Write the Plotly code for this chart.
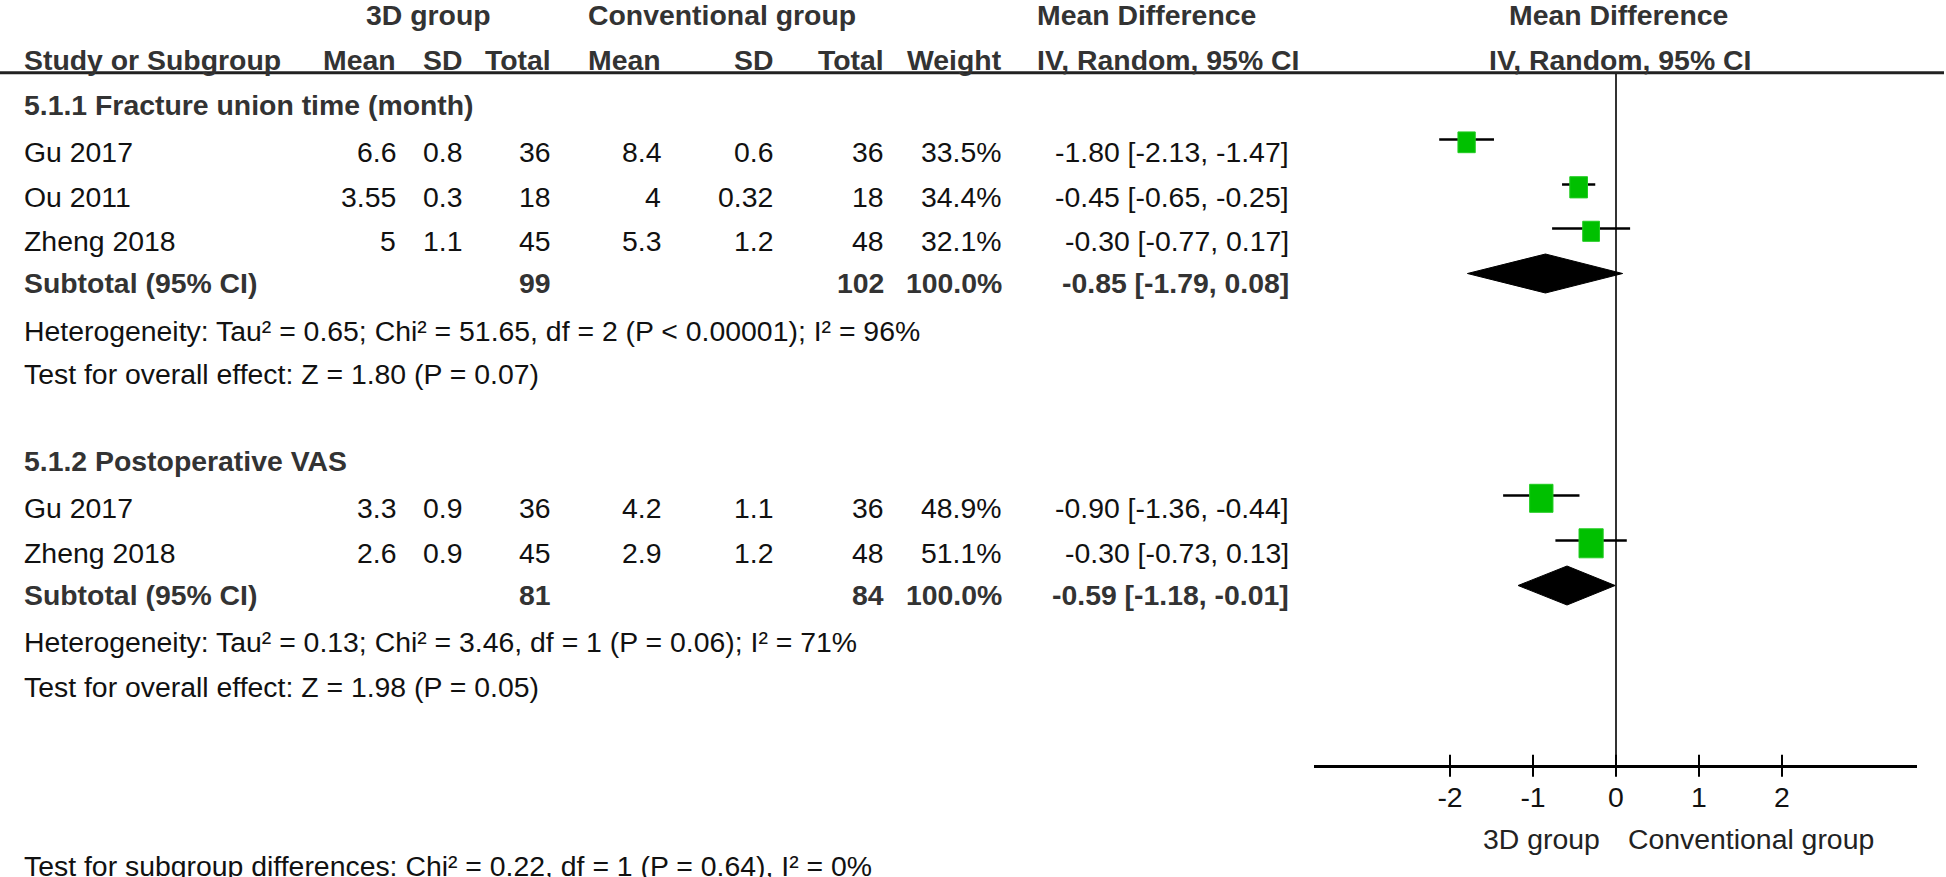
import plotly.graph_objects as go

W, H = 1946, 877

# ---------------- data ----------------
group_titles = ["5.1.1 Fracture union time (month)", "5.1.2 Postoperative VAS"]

g1_study = ["Gu 2017", "Ou 2011", "Zheng 2018"]
g1_mean_3d = [6.6, 3.55, 5]
g1_sd_3d = [0.8, 0.3, 1.1]
g1_n_3d = [36, 18, 45]
g1_mean_conv = [8.4, 4, 5.3]
g1_sd_conv = [0.6, 0.32, 1.2]
g1_n_conv = [36, 18, 48]
g1_weight = [33.5, 34.4, 32.1]
g1_md = [-1.80, -0.45, -0.30]
g1_lo = [-2.13, -0.65, -0.77]
g1_hi = [-1.47, -0.25, 0.17]

g2_study = ["Gu 2017", "Zheng 2018"]
g2_mean_3d = [3.3, 2.6]
g2_sd_3d = [0.9, 0.9]
g2_n_3d = [36, 45]
g2_mean_conv = [4.2, 2.9]
g2_sd_conv = [1.1, 1.2]
g2_n_conv = [36, 48]
g2_weight = [48.9, 51.1]
g2_md = [-0.90, -0.30]
g2_lo = [-1.36, -0.73]
g2_hi = [-0.44, 0.13]

sub_n_3d = [99, 81]
sub_n_conv = [102, 84]
sub_md = [-0.85, -0.59]
sub_lo = [-1.79, -1.18]
sub_hi = [0.08, -0.01]

het_text = ["Heterogeneity: Tau² = 0.65; Chi² = 51.65, df = 2 (P < 0.00001); I² = 96%",
            "Heterogeneity: Tau² = 0.13; Chi² = 3.46, df = 1 (P = 0.06); I² = 71%"]
overall_text = ["Test for overall effect: Z = 1.80 (P = 0.07)",
                "Test for overall effect: Z = 1.98 (P = 0.05)"]
subgroup_text = "Test for subgroup differences: Chi² = 0.22, df = 1 (P = 0.64), I² = 0%"

tick_vals = [-2, -1, 0, 1, 2]
tick_text = ["-2", "-1", "0", "1", "2"]
favours = ["3D group", "Conventional group"]

# ---------------- layout constants ----------------
FONT = "Liberation Sans, Arial, sans-serif"
FS = 28.4
TXT = "#111111"
BOLD = "#333333"
GREEN = "#00C000"
PAD = 3  # annotation inner padding compensation

ZERO_PX, PPU = 1616, 83.0
X_RANGE = [-3.64, 3.63]
AXIS_Y = 765.7
HEADER_LINE_Y = 72.7

COL = dict(study=25, mean3=395, sd3=461, n3=550, meanc=660, sdc=772, nc=883,
           weight=1001, md=1288)

groups = [
    dict(title_y=105, rows_y=[152, 197, 241], sub_y=283, het_y=331, ov_y=374,
         study=g1_study, m3=g1_mean_3d, s3=g1_sd_3d, n3=g1_n_3d, mc=g1_mean_conv,
         sc=g1_sd_conv, nc=g1_n_conv, w=g1_weight, md=g1_md, lo=g1_lo, hi=g1_hi),
    dict(title_y=461, rows_y=[508, 553], sub_y=595, het_y=642, ov_y=687,
         study=g2_study, m3=g2_mean_3d, s3=g2_sd_3d, n3=g2_n_3d, mc=g2_mean_conv,
         sc=g2_sd_conv, nc=g2_n_conv, w=g2_weight, md=g2_md, lo=g2_lo, hi=g2_hi),
]
SUBGROUP_Y = 866
FAVOURS_Y = 839
MARK_OFF = -12.5     # CI line sits above text centre
SQ_OFF = 2.8         # square centre below CI line
DIA_OFF = -9.5
DIA_HALF_H = 19.5

fig = go.Figure()
ann = []


def txt(x_px, y, s, anchor="left", bold=False, color=None):
    if anchor == "left":
        x_px -= PAD
    elif anchor == "right":
        x_px += PAD
    ann.append(dict(x=x_px / W, xref="paper", y=y, yref="y", text=(f"<b>{s}</b>" if bold else s),
                    showarrow=False, xanchor=anchor, yanchor="middle",
                    font=dict(family=FONT, size=FS, color=color or (BOLD if bold else TXT))))


def g(v):
    return f"{v:g}"


# headers
txt(428.5, 15, "3D group", "center", True)
txt(721.5, 15, "Conventional group", "center", True)
txt(1038, 15, "Mean Difference", "left", True)
txt(1618, 15, "Mean Difference", "center", True)
txt(COL["study"], 60, "Study or Subgroup", "left", True)
txt(COL["mean3"], 60, "Mean", "right", True)
txt(COL["sd3"], 60, "SD", "right", True)
txt(COL["n3"], 60, "Total", "right", True)
txt(COL["meanc"], 60, "Mean", "right", True)
txt(COL["sdc"], 60, "SD", "right", True)
txt(COL["nc"], 60, "Total", "right", True)
txt(COL["weight"], 60, "Weight", "right", True)
txt(1038, 60, "IV, Random, 95% CI", "left", True)
txt(1620, 60, "IV, Random, 95% CI", "center", True)

ci_x, ci_y = [], []
sq_x, sq_y = [], []
dia_x, dia_y = [], []

for gi, grp in enumerate(groups):
    txt(COL["study"], grp["title_y"], group_titles[gi], "left", True)
    for i, y in enumerate(grp["rows_y"]):
        txt(COL["study"], y, grp["study"][i])
        txt(COL["mean3"], y, g(grp["m3"][i]), "right")
        txt(COL["sd3"], y, g(grp["s3"][i]), "right")
        txt(COL["n3"], y, g(grp["n3"][i]), "right")
        txt(COL["meanc"], y, g(grp["mc"][i]), "right")
        txt(COL["sdc"], y, g(grp["sc"][i]), "right")
        txt(COL["nc"], y, g(grp["nc"][i]), "right")
        txt(COL["weight"], y, f"{grp['w'][i]:.1f}%", "right")
        txt(COL["md"], y, f"{grp['md'][i]:.2f} [{grp['lo'][i]:.2f}, {grp['hi'][i]:.2f}]", "right")
        # forest marks
        yl = y + MARK_OFF
        ci_x += [grp["lo"][i], grp["hi"][i], None]
        ci_y += [yl, yl, None]
        wpx = 1.08 * grp["w"][i] ** 0.79
        hpx = 1.2 * wpx
        hw = wpx / 2 / PPU
        cx, cy = grp["md"][i], yl + SQ_OFF
        sq_x += [cx - hw, cx + hw, cx + hw, cx - hw, cx - hw, None]
        sq_y += [cy - hpx / 2, cy - hpx / 2, cy + hpx / 2, cy + hpx / 2, cy - hpx / 2, None]
    ys = grp["sub_y"]
    txt(COL["study"], ys, "Subtotal (95% CI)", "left", True)
    txt(COL["n3"], ys, g(sub_n_3d[gi]), "right", True)
    txt(COL["nc"], ys, g(sub_n_conv[gi]), "right", True)
    txt(COL["weight"], ys, "100.0%", "right", True)
    txt(COL["md"], ys, f"{sub_md[gi]:.2f} [{sub_lo[gi]:.2f}, {sub_hi[gi]:.2f}]", "right", True)
    yd = ys + DIA_OFF
    dia_x += [sub_lo[gi], sub_md[gi], sub_hi[gi], sub_md[gi], sub_lo[gi], None]
    dia_y += [yd, yd - DIA_HALF_H, yd, yd + DIA_HALF_H, yd, None]
    txt(COL["study"], grp["het_y"], het_text[gi])
    txt(COL["study"], grp["ov_y"], overall_text[gi])

txt(COL["study"], SUBGROUP_Y, subgroup_text)

# favours labels (positioned relative to zero on the effect axis)
ann.append(dict(x=-0.21 + PAD / PPU, xref="x", y=FAVOURS_Y, yref="y", text=favours[0], showarrow=False,
                xanchor="right", yanchor="middle", font=dict(family=FONT, size=FS, color="#222222")))
ann.append(dict(x=0.16 - PAD / PPU, xref="x", y=FAVOURS_Y, yref="y", text=favours[1], showarrow=False,
                xanchor="left", yanchor="middle", font=dict(family=FONT, size=FS, color="#222222")))

# zero line
fig.add_trace(go.Scatter(x=[0, 0], y=[HEADER_LINE_Y, AXIS_Y], mode="lines",
                         line=dict(color="#333333", width=2), hoverinfo="skip"))
# ticks crossing the axis line
tx, ty = [], []
for t in tick_vals:
    tx += [t, t, None]
    ty += [AXIS_Y - 11, AXIS_Y + 11, None]
fig.add_trace(go.Scatter(x=tx, y=ty, mode="lines", line=dict(color="black", width=2), hoverinfo="skip"))
# CI lines
fig.add_trace(go.Scatter(x=ci_x, y=ci_y, mode="lines", line=dict(color="black", width=2.5), hoverinfo="skip"))
# squares
fig.add_trace(go.Scatter(x=sq_x, y=sq_y, mode="lines", fill="toself", fillcolor=GREEN,
                         line=dict(color="#22CC22", width=1), hoverinfo="skip"))
# diamonds
fig.add_trace(go.Scatter(x=dia_x, y=dia_y, mode="lines", fill="toself", fillcolor="black",
                         line=dict(color="black", width=1), hoverinfo="skip"))

fig.update_layout(
    width=W, height=H, margin=dict(l=0, r=0, t=0, b=0),
    paper_bgcolor="white", plot_bgcolor="white", showlegend=False,
    annotations=ann,
    shapes=[dict(type="line", xref="paper", yref="y", x0=0, x1=1944 / W,
                 y0=HEADER_LINE_Y, y1=HEADER_LINE_Y, line=dict(color="#222222", width=3))],
    xaxis=dict(domain=[(ZERO_PX + X_RANGE[0] * PPU) / W, (ZERO_PX + X_RANGE[1] * PPU) / W],
               range=X_RANGE, anchor="free", position=1 - AXIS_Y / H,
               showline=True, linecolor="black", linewidth=3,
               ticks="", tickvals=tick_vals, ticktext=tick_text, ticklabelstandoff=5,
               tickfont=dict(family=FONT, size=FS, color=TXT),
               showgrid=False, zeroline=False, fixedrange=True),
    yaxis=dict(domain=[0, 1], range=[H, 0], visible=False, fixedrange=True),
)

fig.write_html("out.html", config={"displayModeBar": False},
               post_script="document.body.style.margin='0';")
